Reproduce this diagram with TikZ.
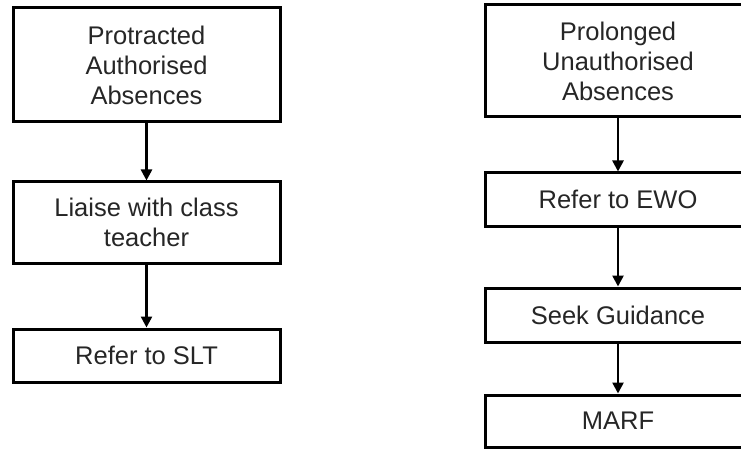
\documentclass[tikz,border=0pt]{standalone}
\usepackage{fontspec}
\setmainfont{Liberation Sans}
\usetikzlibrary{arrows.meta}
\begin{document}
\begin{tikzpicture}[x=1pt,y=-1pt,
  flowbox/.style={draw=black, line width=3pt, fill=white, inner sep=0pt, align=center,
    font=\fontsize{25.5}{30}\selectfont, text=black!85},
  flowarrow/.style={line width=2.5pt, -{Triangle[width=11pt,length=11pt]}}]
\clip (0,0) rectangle (741,449);
\useasboundingbox (0,0) rectangle (741,449);
% left column
\node[flowbox, minimum width=267pt, minimum height=114pt] (a1) at (146.5,65) {Protracted\\Authorised\\Absences};
\node[flowbox, minimum width=267pt, minimum height=81pt] (a2) at (146.5,222.5) {Liaise with class\\teacher};
\node[flowbox, minimum width=267pt, minimum height=53pt] (a3) at (146.5,355.5) {Refer to SLT};
% right column
\node[flowbox, minimum width=266pt, minimum height=112pt] (b1) at (618,61) {Prolonged\\Unauthorised\\Absences};
\node[flowbox, minimum width=266pt, minimum height=53pt] (b2) at (618,199.5) {Refer to EWO};
\node[flowbox, minimum width=266pt, minimum height=54pt] (b3) at (618,315) {Seek Guidance};
\node[flowbox, minimum width=266pt, minimum height=52pt] (b4) at (618,421) {MARF};
% arrows
\draw[flowarrow] (a1.south) -- (a2.north);
\draw[flowarrow] (a2.south) -- (a3.north);
\draw[flowarrow] (b1.south) -- (b2.north);
\draw[flowarrow] (b2.south) -- (b3.north);
\draw[flowarrow] (b3.south) -- (b4.north);
\end{tikzpicture}
\end{document}
